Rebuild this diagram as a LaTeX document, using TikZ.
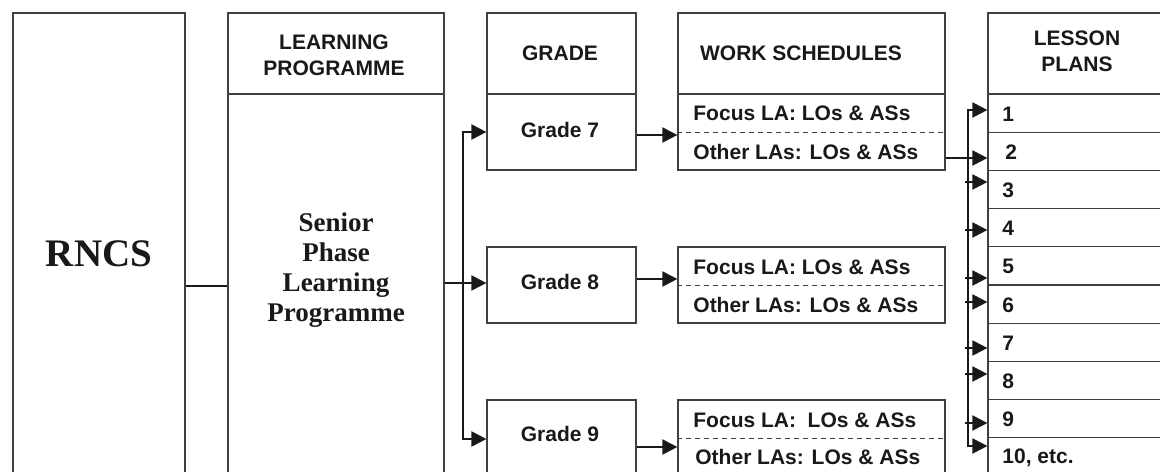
\documentclass[tikz,border=0pt]{standalone}
\usepackage{fontspec}
\setmainfont{Liberation Serif}
\setsansfont{Liberation Sans}
\usetikzlibrary{arrows.meta,fit}
\begin{document}
\begin{tikzpicture}[x=0.5pt,y=-0.5pt,
  box/.style={draw=black!75, line width=0.6pt, inner sep=0pt},
  sf/.style={font=\sffamily\bfseries\fontsize{10.5}{13}\selectfont, text=black!90, align=center, inner sep=0pt},
  rm/.style={font=\rmfamily\bfseries\fontsize{13.5}{15}\selectfont, text=black!90, align=center, inner sep=0pt},
  conn/.style={draw=black!90, line width=1pt},
  arr/.style={conn, -{Triangle[length=7.5pt,width=7.5pt]}},
  arrboth/.style={conn, {Triangle[length=7.5pt,width=7.5pt]}-{Triangle[length=7.5pt,width=7.5pt]}},
  dashline/.style={draw=black!75, line width=0.5pt, dash pattern=on 2.5pt off 2pt}
]
\useasboundingbox (0,0) rectangle (1160,471);
\clip (0,0) rectangle (1160,471);

% RNCS column
\node[box, fit={(13,13)(185,520)}] (rncs) {};
\node[rm, font=\rmfamily\bfseries\fontsize{19.5}{22}\selectfont] (rncstxt) at (99,254) {RNCS};

% Learning programme column
\node[box, fit={(228,13)(444,94)}] (lphdr) {};
\node[sf] (lphdrtxt) at (334,55) {LEARNING\\PROGRAMME};
\node[box, fit={(228,94)(444,520)}] (lp) {};
\node[rm] (lptxt) at (336,270) {Senior\\Phase\\Learning\\Programme};

% Grade column
\node[box, fit={(487,13)(636,94)}] (ghdr) {};
\node[sf] (ghdrtxt) at (560,53) {GRADE};
\node[box, fit={(487,94)(636,170)}] (g7) {};
\node[sf] (g7txt) at (560,130) {Grade 7};
\node[box, fit={(487,247)(636,323)}] (g8) {};
\node[sf] (g8txt) at (560,282) {Grade 8};
\node[box, fit={(487,400)(636,520)}] (g9) {};
\node[sf] (g9txt) at (560,434) {Grade 9};

% Work schedules column
\node[box, fit={(678,13)(945,94)}] (wshdr) {};
\node[sf] (wshdrtxt) at (801,53) {WORK SCHEDULES};
\node[box, fit={(678,94)(945,170)}] (ws7) {};
\node[box, fit={(678,247)(945,323)}] (ws8) {};
\node[box, fit={(678,400)(945,520)}] (ws9) {};
\coordinate (d7) at (0,132);
\coordinate (d8) at (0,285);
\coordinate (d9) at (0,438);
\draw[dashline] (ws7.west |- d7) -- (ws7.east |- d7);
\draw[dashline] (ws8.west |- d8) -- (ws8.east |- d8);
\draw[dashline] (ws9.west |- d9) -- (ws9.east |- d9);
\node[sf, anchor=west] (f7) at (693,113) {Focus LA: LOs \& ASs};
\node[sf, anchor=west] (o7) at (693,152) {Other LAs: LOs \& ASs};
\node[sf, anchor=west] (f8) at (693,267) {Focus LA: LOs \& ASs};
\node[sf, anchor=west] (o8) at (693,305) {Other LAs: LOs \& ASs};
\node[sf, anchor=west] (f9) at (693,420) {Focus LA:~ LOs \& ASs};
\node[sf, anchor=west] (o9) at (695,457) {Other LAs: LOs \& ASs};

% Lesson plans column
\node[box, fit={(988,13)(1166,94)}] (lhdr) {};
\node[sf] (lhdrtxt) at (1077,51) {LESSON\\PLANS};
\foreach \i/\lab/\dx in {1/1/0,2/2/3,3/3/0,4/4/0,5/5/0,6/6/0,7/7/0,8/8/0,9/9/0,10/{10, etc.}/0} {
  \pgfmathsetmacro{\top}{94+38.2*(\i-1)}
  \pgfmathsetmacro{\bot}{\i==10 ? 520 : 94+38.2*\i}
  \pgfmathsetmacro{\mid}{94+38.2*(\i-1)+20}
  \node[box, fit={(988,\top)(1166,\bot)}] (l\i) {};
  \node[sf, anchor=west] (lt\i) at (1002+\dx,\mid) {\lab};
}

% connectors
\coordinate (yr) at (0,286);
\draw[conn] (rncs.east |- yr) -- (lp.west |- yr);
\coordinate (yg8) at (0,283);
\draw[arr] (lp.east |- yg8) -- (g8.west |- yg8);
\coordinate (busg) at (463,0);
\coordinate (yg7) at (0,132);
\coordinate (yg9) at (0,439);
\draw[arrboth] (g7.west |- yg7) -- (busg |- yg7) -- (busg |- yg9) -- (g9.west |- yg9);

\coordinate (w7) at (0,135);
\coordinate (w8) at (0,279);
\coordinate (w9) at (0,447);
\draw[arr] (g7.east |- w7) -- (ws7.west |- w7);
\draw[arr] (g8.east |- w8) -- (ws8.west |- w8);
\draw[arr] (g9.east |- w9) -- (ws9.west |- w9);

% lesson bus
\coordinate (busl) at (968,0);
\coordinate (c1) at (0,110);
\coordinate (c10) at (0,446);
\draw[arrboth] (l1.west |- c1) -- (busl |- c1) -- (busl |- c10) -- (l10.west |- c10);
\coordinate (c2) at (0,158);
\draw[arr] (ws7.east |- c2) -- (l2.west |- c2);
\foreach \i/\y in {3/182,4/230,5/278,6/302,7/348,8/374,9/423} {
  \coordinate (c\i) at (965,\y);
  \draw[arr] (c\i) -- (l\i.west |- c\i);
}
\end{tikzpicture}
\end{document}
